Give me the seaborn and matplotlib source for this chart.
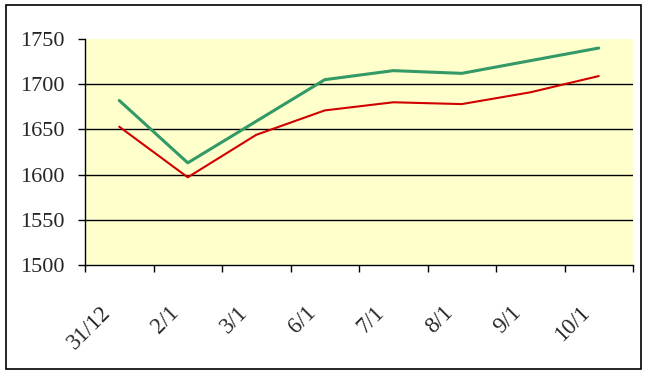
import pandas as pd
import matplotlib.pyplot as plt
import seaborn as sns
from matplotlib.patches import Rectangle
from matplotlib.transforms import ScaledTranslation

dates = ['31/12', '2/1', '3/1', '6/1', '7/1', '8/1', '9/1', '10/1']
green_vals = [1682, 1613, 1659, 1705, 1715, 1712, 1726, 1740]
red_vals = [1653, 1597, 1644, 1671, 1680, 1678, 1691, 1709]
y_ticks = [1500, 1550, 1600, 1650, 1700, 1750]

data = pd.DataFrame({
    'date': dates * 2,
    'value': green_vals + red_vals,
    'series': ['green'] * len(dates) + ['red'] * len(dates),
})

sns.set_style('white')
plt.rcParams['font.family'] = ['Liberation Serif', 'DejaVu Serif']

fig = plt.figure(figsize=(6.47, 3.73), dpi=100)
ax = fig.add_axes([85 / 647, 1 - 265 / 373, 548 / 647, 226 / 373])
ax.set_facecolor('#FFFFCC')

sns.lineplot(data=data, x='date', y='value', hue='series',
             palette={'green': '#339966', 'red': '#D00000'},
             size='series', sizes={'green': 2.2, 'red': 1.5},
             legend=False, ax=ax)

ax.set_xlim(-0.5, len(dates) - 0.5)
ax.set_ylim(y_ticks[0], y_ticks[-1])
ax.hlines(y_ticks[1:-1], -0.5, len(dates) - 0.5, colors='black', linewidth=1, zorder=0.5)

ax.set_yticks(y_ticks)
ax.set_yticklabels([str(v) for v in y_ticks], fontsize=16)
ax.set_xticks(range(len(dates)))
ax.set_xticklabels(dates, fontsize=16.5, rotation=45, ha='right', rotation_mode='anchor')
ax.set_xticks([i - 0.5 for i in range(len(dates) + 1)], minor=True)
ax.tick_params(axis='x', which='major', length=0, pad=27)
ax.tick_params(axis='x', which='minor', length=5, width=1, color='black', direction='out', bottom=True)
ax.tick_params(axis='y', length=5, width=1, color='black', direction='out', left=True, pad=10)
ax.set_xlabel('')
ax.set_ylabel('')

shift = ScaledTranslation(-14 / 72, 0, fig.dpi_scale_trans)
for label in ax.get_xticklabels():
    label.set_transform(label.get_transform() + shift)

for side in ['top', 'right']:
    ax.spines[side].set_visible(False)
for side in ['left', 'bottom']:
    ax.spines[side].set_color('black')
    ax.spines[side].set_linewidth(1)

fig.patches.append(Rectangle((6 / 647, 4 / 373), 635 / 647, 364 / 373,
                             transform=fig.transFigure, fill=False,
                             edgecolor='black', linewidth=1.2))

fig.savefig('out.png', dpi=100)
